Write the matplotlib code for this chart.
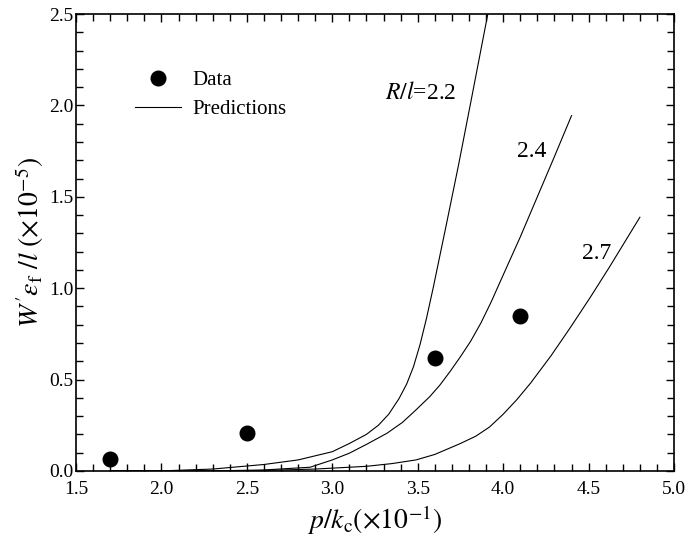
import numpy as np
import matplotlib.pyplot as plt

plt.rcParams['font.family'] = 'serif'
plt.rcParams['font.serif'] = ['Liberation Serif', 'DejaVu Serif']
plt.rcParams['mathtext.fontset'] = 'stix'

# measured data points
data_x = [1.7, 2.5, 3.6, 4.1]
data_y = [0.065, 0.21, 0.62, 0.85]

# prediction curves, one per R/l
x_22 = [1.7, 2.0, 2.3, 2.6, 2.8, 3.0, 3.1, 3.2, 3.27, 3.33, 3.39, 3.435, 3.475, 3.513,
        3.55, 3.59, 3.63, 3.67, 3.74, 3.815, 3.91]
y_22 = [0.0, 0.0, 0.01, 0.035, 0.06, 0.105, 0.15, 0.2, 0.25, 0.31, 0.395, 0.475, 0.57, 0.69,
        0.83, 1.0, 1.18, 1.36, 1.68, 2.04, 2.5]

x_24 = [1.7, 2.3, 2.6, 2.87, 3.0, 3.1, 3.2, 3.32, 3.41, 3.49, 3.57, 3.63, 3.69, 3.75,
        3.81, 3.87, 3.93, 3.98, 4.1, 4.2, 4.3, 4.4]
y_24 = [0.0, 0.0, 0.005, 0.02, 0.06, 0.097, 0.145, 0.206, 0.265, 0.334, 0.406, 0.47, 0.545, 0.625,
        0.71, 0.81, 0.925, 1.03, 1.28, 1.5, 1.72, 1.944]

x_27 = [1.7, 2.5, 2.9, 3.2, 3.35, 3.49, 3.6, 3.75, 3.84, 3.92, 4.0, 4.08, 4.16, 4.28,
        4.39, 4.51, 4.625, 4.8]
y_27 = [0.0, 0.0, 0.01, 0.025, 0.04, 0.06, 0.09, 0.15, 0.19, 0.24, 0.31, 0.39, 0.48, 0.63,
        0.78, 0.95, 1.12, 1.388]

fig = plt.figure(figsize=(6.85, 5.4), dpi=100)
ax = fig.add_axes([0.111, 0.128, 0.873, 0.846])

ax.plot(data_x, data_y, 'o', color='black', markersize=10.5, label='Data', zorder=3)
ax.plot(x_22, y_22, color='black', lw=0.8, label='Predictions')
ax.plot(x_24, y_24, color='black', lw=0.8)
ax.plot(x_27, y_27, color='black', lw=0.8)

ax.text(3.31, 2.07, r'$R/l$=2.2', fontsize=17, va='center', ha='left')
ax.text(4.08, 1.75, '2.4', fontsize=17, va='center', ha='left')
ax.text(4.46, 1.19, '2.7', fontsize=17, va='center', ha='left')

ax.set_xlim(1.5, 5.0)
ax.set_ylim(0.0, 2.5)
ax.set_xticks(np.arange(1.5, 5.01, 0.5))
ax.set_yticks(np.arange(0.0, 2.51, 0.5))
ax.set_xticks(np.arange(1.5, 5.01, 0.1), minor=True)
ax.set_yticks(np.arange(0.0, 2.51, 0.1), minor=True)
ax.xaxis.set_major_formatter(plt.FormatStrFormatter('%.1f'))
ax.yaxis.set_major_formatter(plt.FormatStrFormatter('%.1f'))
ax.tick_params(which='both', direction='in', top=True, right=True, labelsize=14, width=1)
ax.tick_params(which='major', length=6)
ax.tick_params(which='minor', length=5)
ax.tick_params(axis='x', pad=7)
ax.tick_params(axis='y', pad=2)
for s in ax.spines.values():
    s.set_linewidth(1.2)

ax.set_xlabel(r'$p/k_{\mathrm{c}}(\times 10^{-1})$', fontsize=20, labelpad=4)
ax.set_ylabel(r"$W'\varepsilon_{\mathrm{f}}\ /l\ (\times 10^{-5})$", fontsize=20, labelpad=2)

ax.legend(loc='upper left', bbox_to_anchor=(0.085, 0.895), frameon=False, fontsize=15,
          handlelength=2.2, handletextpad=0.55, labelspacing=0.45, borderaxespad=0)

fig.savefig('out.png', dpi=100)
